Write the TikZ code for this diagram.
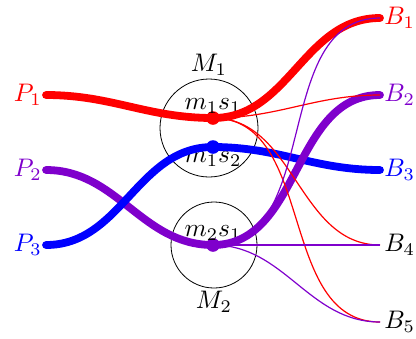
\documentclass[tikz,border=0pt]{standalone}
\usepackage{amsmath,amssymb}
\usepackage{xcolor}
\usepackage{tikz}
\definecolor{vio}{HTML}{7F00CC}

\begin{document}
\begin{tikzpicture}[x=0.5pt,y=-0.5pt,
  fat/.style={line width=3.9pt,line cap=round},
  slim/.style={line width=0.6pt},
  dot/.style={circle,fill=#1,inner sep=0pt,minimum size=6.8pt},
  lbl/.style={scale=1.27,transform shape,inner sep=1.5pt},
  flow/.style={out=0,in=180}]
\useasboundingbox (0,0) rectangle (416,338);
% machines
\node[circle,draw,minimum size=49pt] (M1) at (209,128) {};
\node[circle,draw,minimum size=43pt] (M2) at (214,245) {};
\node[lbl,above,inner sep=1pt] at (M1.north) {$M_1$};
\node[lbl,below,inner sep=1pt] at (M2.south) {$M_2$};
\node[dot=red] (m11) at (213,118) {};
\node[dot=blue] (m12) at (213,147) {};
\node[dot=vio] (m21) at (213,245) {};
\node[lbl,above] at (m11) {$m_1s_1$};
\node[lbl,below] at (m12) {$m_1s_2$};
\node[lbl,above] at (m21) {$m_2s_1$};
% inputs and outputs
\node[lbl,red,left] (p1) at (46,95) {$P_1$};
\node[lbl,vio,left] (p2) at (46,170) {$P_2$};
\node[lbl,blue,left] (p3) at (46,245) {$P_3$};
\node[lbl,red,right] (b1) at (380,18) {$B_1$};
\node[lbl,vio,right] (b2) at (380,95) {$B_2$};
\node[lbl,blue,right] (b3) at (380,170) {$B_3$};
\node[lbl,right] (b4) at (380,245) {$B_4$};
\node[lbl,right] (b5) at (380,322) {$B_5$};
% thick routes
\draw[vio,fat] (p2.east) to[flow] (m21.center);
\draw[blue,fat] (p3.east) to[flow] (m12.center);
\draw[red,fat] (p1.east) to[flow] (m11.center);
\draw[blue,fat] (m12.center) to[flow] (b3.west);
\draw[vio,fat] (m21.center) to[flow] (b2.west);
\draw[red,fat] (m11.center) to[flow] (b1.west);
% thin routes
\foreach \b in {b2,b4,b5}
  \draw[red,slim] (m11.center) to[flow] (\b.west);
\foreach \b in {b1,b4,b5}
  \draw[vio,slim] (m21.center) to[flow] (\b.west);
\end{tikzpicture}
\end{document}
